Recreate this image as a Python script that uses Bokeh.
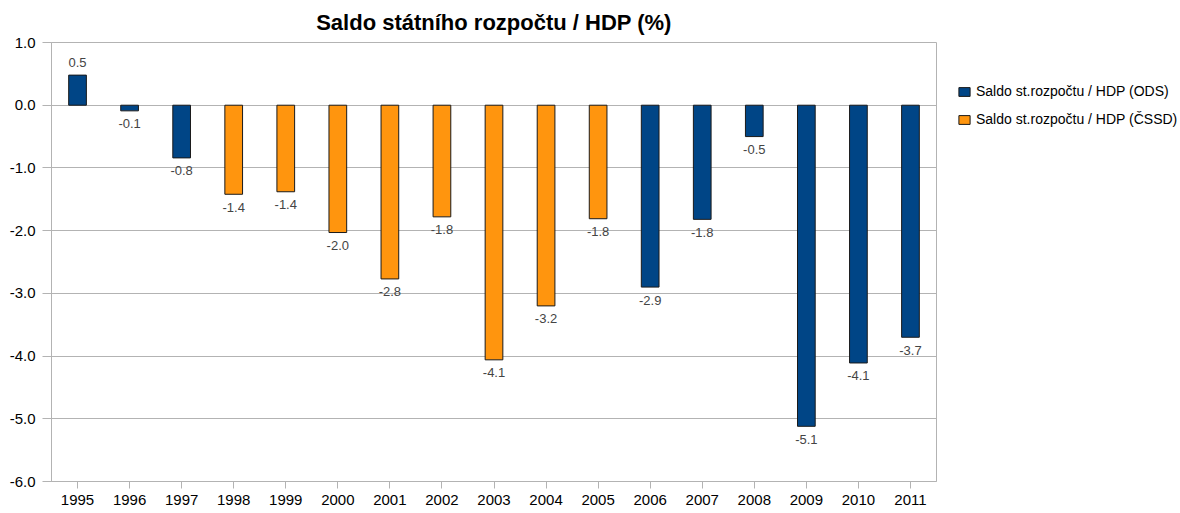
from bokeh.plotting import figure
from bokeh.layouts import row
from bokeh.models import (ColumnDataSource, FactorRange, Range1d, FixedTicker,
                          LabelSet, Legend, LegendItem, NumeralTickFormatter)
from bokeh.core.properties import value
from bokeh.embed import file_html
from bokeh.resources import INLINE

years = ["1995", "1996", "1997", "1998", "1999", "2000", "2001", "2002", "2003",
         "2004", "2005", "2006", "2007", "2008", "2009", "2010", "2011"]
saldo = [0.48, -0.09, -0.84, -1.42, -1.38, -2.03, -2.77, -1.78, -4.06,
         -3.20, -1.81, -2.90, -1.82, -0.50, -5.12, -4.11, -3.70]
party = ["ODS", "ODS", "ODS", "ČSSD", "ČSSD", "ČSSD", "ČSSD", "ČSSD", "ČSSD",
         "ČSSD", "ČSSD", "ODS", "ODS", "ODS", "ODS", "ODS", "ODS"]
series_names = ["ODS", "ČSSD"]
series_labels = ["Saldo st.rozpočtu / HDP (ODS)", "Saldo st.rozpočtu / HDP (ČSSD)"]
series_colors = ["#004586", "#ff950e"]
y_ticks = [-6, -5, -4, -3, -2, -1, 0, 1]
title_text = "Saldo státního rozpočtu / HDP (%)"

FONT = "Liberation Sans"
GRID = "#b3b3b3"
EDGE = "#1a1a1a"

color_map = dict(zip(series_names, series_colors))
src = ColumnDataSource(dict(
    year=years,
    saldo=saldo,
    party=party,
    color=[color_map[p] for p in party],
    label=[f"{v:.1f}" for v in saldo],
    off=[13 if v >= 0 else -13 for v in saldo],
))

# ---- main chart ----
p = figure(width=940, height=513, output_backend="svg", toolbar_location=None,
           x_range=FactorRange(factors=years, range_padding=0),
           y_range=Range1d(-6, 1),
           min_border_left=51, min_border_right=4, min_border_top=42,
           min_border_bottom=32)

p.vbar(x="year", top="saldo", bottom=0, width=0.34, source=src,
       fill_color="color", line_color=EDGE, line_width=1)

p.title.text = title_text
p.title.align = "center"
p.title.text_font = FONT
p.title.text_font_size = "22px"
p.title.text_font_style = "bold"
p.title.text_color = "black"
p.title.standoff = 15

p.outline_line_color = GRID
p.outline_line_width = 1
p.background_fill_color = "white"
p.border_fill_color = "white"

p.xgrid.grid_line_color = None
p.ygrid.grid_line_color = GRID
p.ygrid.grid_line_width = 1

p.yaxis.ticker = FixedTicker(ticks=y_ticks)
p.yaxis.formatter = NumeralTickFormatter(format="0.0")
for ax in (p.xaxis[0], p.yaxis[0]):
    ax.axis_line_color = GRID
    ax.major_tick_line_color = GRID
    ax.minor_tick_line_color = None
    ax.major_tick_in = 0
    ax.major_label_text_font = FONT
    ax.major_label_text_font_size = "15px"
    ax.major_label_text_color = "black"
p.yaxis.major_tick_out = 9
p.yaxis.major_label_standoff = 7
p.xaxis.major_tick_out = 7
p.xaxis.major_label_standoff = 6

labels = LabelSet(x="year", y="saldo", text="label", y_offset="off", source=src,
                  text_align="center", text_baseline="middle",
                  text_font=value(FONT), text_font_size=value("13px"),
                  text_color=value("#444444"))
p.add_layout(labels)

# ---- legend panel ----
lg = figure(width=240, height=513, output_backend="svg", toolbar_location=None,
            x_range=Range1d(0, 1), y_range=Range1d(0, 1),
            min_border_left=0, min_border_right=0, min_border_top=0,
            min_border_bottom=0)
lg.axis.visible = False
lg.grid.visible = False
lg.outline_line_color = None
lg.border_fill_color = "white"

items = []
for name, lab, col in zip(series_names, series_labels, series_colors):
    # swatch source for the legend: a bar placed far outside the legend panel's range
    rr = lg.vbar(x=[50], top=[0.6], bottom=[0.4], width=0.5, fill_color=col,
                 line_color=EDGE, line_width=1)
    items.append(LegendItem(label=lab, renderers=[rr], index=0))
legend = Legend(items=items, location=(17, 354), label_text_font=FONT,
                label_text_font_size="14px", label_text_color="black",
                glyph_width=14, glyph_height=11, label_height=16, label_standoff=5,
                spacing=12, padding=0, margin=0,
                border_line_color=None, background_fill_alpha=0)
lg.add_layout(legend, "center")

layout = row(p, lg)
open("out.html", "w").write(file_html(layout, INLINE))
